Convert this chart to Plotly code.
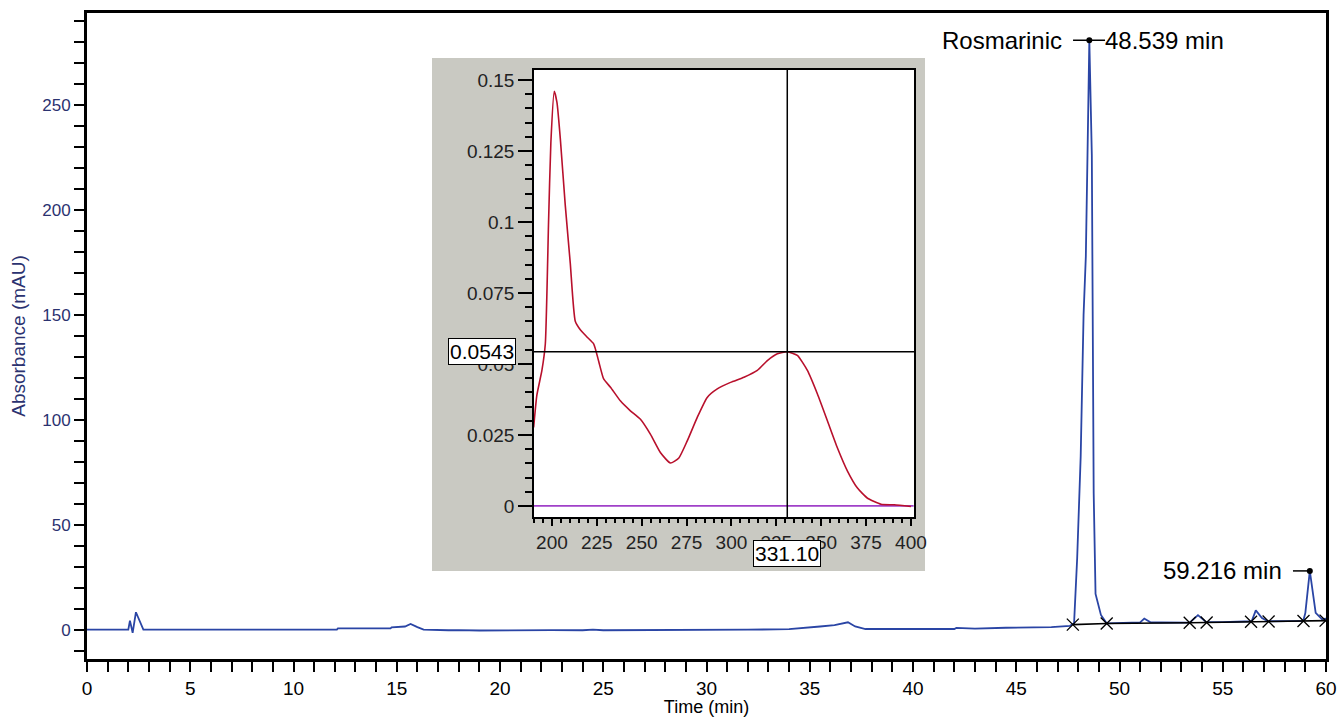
import plotly.graph_objects as go

# ---------------- main chromatogram data ----------------
time_min = [0, 2.0, 2.08, 2.21, 2.37, 2.73, 12.1, 12.15, 14.7, 14.75, 15.4, 15.67, 16.0, 16.3,
            17.5, 18.0, 19.0, 20.0, 21.5, 22.5, 24.0, 24.5, 25.0, 28.0, 29.5, 30.0, 31.0, 32.0,
            34.0, 35.0, 35.5, 36.2, 36.85, 37.2, 37.7, 40.0, 42.0, 42.1, 43.0, 44.5, 46.7, 47.6,
            47.8, 47.95, 48.12, 48.26, 48.37, 48.45, 48.539, 48.66, 48.75, 48.84, 49.1, 49.38,
            50.5, 51.0, 51.2, 51.5, 52.0, 53.0, 53.4, 53.8, 54.2, 55.0, 56.2, 56.4, 56.6, 56.9,
            57.2, 58.0, 58.9, 59.0, 59.216, 59.5, 59.8, 60.0]
absorbance_mau = [0, 0, 4.3, -1.5, 8.3, 0, 0, 0.6, 0.6, 1.1, 1.5, 2.7, 1.2, 0,
                  -0.3, -0.2, -0.4, -0.3, -0.4, -0.2, -0.3, 0, -0.3, -0.3, -0.2, 0, -0.3, 0,
                  0.2, 0.9, 1.5, 2.1, 3.5, 1.5, 0.3, 0.3, 0.3, 0.8, 0.5, 0.9, 1.2, 1.8,
                  3.0, 34, 82.5, 150, 178, 226, 281, 226, 65, 17, 7, 3,
                  3.2, 3.5, 5.3, 3.5, 3.4, 3.3, 3.3, 6.9, 3.6, 3.6, 3.7, 4.0, 9.2, 5.5,
                  4.0, 4.0, 4.2, 8, 28, 8, 5.0, 5.2]

# integration baseline markers
baseline_time = [47.74, 49.38, 53.4, 54.22, 56.37, 57.22, 58.91, 59.98]
baseline_val = [2.4, 2.9, 3.3, 3.4, 3.8, 3.9, 4.1, 4.3]

# peak labels
peak_times = [48.539, 59.216]
peak_heights = [281, 28]

# ---------------- inset UV spectrum data ----------------
wavelength_nm = [189.8, 191.6, 194.4, 196.3, 198.1, 199.4, 201.3, 202.8, 204.7, 207.4, 210.2,
                 213.0, 215.8, 219.5, 223.3, 226.0, 228.8, 232.6, 238.1, 243.7, 249.3, 254.9,
                 260.5, 266.0, 270.7, 275.3, 280.9, 286.5, 292.1, 299.5, 307.0, 314.4, 320.0,
                 325.6, 331.1, 336.7, 342.3, 347.9, 353.5, 359.0, 364.7, 370.2, 375.8, 383.3,
                 390.7, 400.0]
spectrum_au = [0.0276, 0.039, 0.0477, 0.057, 0.0997, 0.128, 0.146, 0.142, 0.129, 0.106, 0.0855,
               0.065, 0.062, 0.0595, 0.057, 0.051, 0.0447, 0.0418, 0.037, 0.0335, 0.0305, 0.0252,
               0.0187, 0.0151, 0.0169, 0.0228, 0.0311, 0.0382, 0.0412, 0.0435, 0.0453, 0.0477,
               0.0512, 0.0536, 0.0543, 0.053, 0.0477, 0.0394, 0.0299, 0.0205, 0.0122, 0.0063,
               0.0027, 0.0006, 0.0004, -0.0002]
zero_line_nm = [190, 401.5]
zero_line_au = [0, 0]
cursor_nm = 331.10
cursor_au = 0.0543

FONT = "Liberation Sans, Arial, sans-serif"
NARROW = "Liberation Sans Narrow, Arial Narrow, Liberation Sans, sans-serif"
NAVY = "#2b3270"

fig = go.Figure()

fig.add_trace(go.Scatter(x=time_min, y=absorbance_mau, mode="lines",
                         line=dict(color="#2a45a5", width=1.8), xaxis="x", yaxis="y",
                         showlegend=False))
fig.add_trace(go.Scatter(x=baseline_time, y=baseline_val, mode="lines+markers",
                         line=dict(color="black", width=1.6),
                         marker=dict(symbol="x-thin-open", size=12,
                                     line=dict(color="#4f5f55", width=1.3)),
                         xaxis="x", yaxis="y", showlegend=False))
fig.add_trace(go.Scatter(x=peak_times, y=peak_heights, mode="markers",
                         marker=dict(color="black", size=6), xaxis="x", yaxis="y",
                         showlegend=False))

# inset traces
fig.add_trace(go.Scatter(x=zero_line_nm, y=zero_line_au, mode="lines",
                         line=dict(color="#a040c8", width=1.6), xaxis="x2", yaxis="y2",
                         showlegend=False))
fig.add_trace(go.Scatter(x=wavelength_nm, y=spectrum_au, mode="lines",
                         line=dict(color="#b8102c", width=1.6, shape="spline", smoothing=0.5),
                         xaxis="x2", yaxis="y2", showlegend=False))

W, H = 1337, 717
L, R, T, B = 87, 11, 13, 58
pw, ph = W - L - R, H - T - B


def px(x):
    return (x - L) / pw


def py(y):
    return (H - B - y) / ph


shapes = [
    # gray inset panel
    dict(type="rect", xref="paper", yref="paper", x0=px(432), x1=px(925), y0=py(571), y1=py(58),
         fillcolor="#c9c9c2", line=dict(width=0), layer="below"),
    dict(type="rect", xref="paper", yref="paper", x0=px(534), x1=px(914), y0=py(517), y1=py(70),
         fillcolor="white", line=dict(width=0), layer="below"),
    # crosshair
    dict(type="line", xref="x2", yref="y2 domain", x0=cursor_nm, x1=cursor_nm, y0=0, y1=1,
         line=dict(color="black", width=1.5)),
    dict(type="line", xref="x2 domain", yref="y2", x0=0, x1=1, y0=cursor_au, y1=cursor_au,
         line=dict(color="black", width=1.5)),
    # peak label leader lines
    dict(type="line", xref="x", yref="y", x0=47.75, x1=49.3, y0=peak_heights[0], y1=peak_heights[0],
         line=dict(color="black", width=1.5)),
    dict(type="line", xref="x", yref="y", x0=58.4, x1=peak_times[1], y0=peak_heights[1], y1=peak_heights[1],
         line=dict(color="black", width=1.5)),
]

annotations = [
    dict(text="Rosmarinic", xref="paper", yref="y", x=px(1064), y=peak_heights[0],
         xanchor="right", yanchor="middle", showarrow=False,
         font=dict(family=FONT, size=24, color="black")),
    dict(text="48.539 min", xref="paper", yref="y", x=px(1103), y=peak_heights[0],
         xanchor="left", yanchor="middle", showarrow=False,
         font=dict(family=FONT, size=24, color="black")),
    dict(text="59.216 min", xref="paper", yref="y", x=px(1284), y=peak_heights[1],
         xanchor="right", yanchor="middle", showarrow=False,
         font=dict(family=FONT, size=24, color="black")),
    dict(text="0.0543", xref="paper", yref="y2", x=px(516), y=cursor_au,
         xanchor="right", yanchor="middle", showarrow=False, bgcolor="white",
         bordercolor="black", borderwidth=1, borderpad=1,
         font=dict(family=FONT, size=21, color="black")),
    dict(text="331.10", xref="x2", yref="paper", x=cursor_nm, y=py(553),
         xanchor="center", yanchor="middle", showarrow=False, bgcolor="white",
         bordercolor="black", borderwidth=1, borderpad=1,
         font=dict(family=FONT, size=21, color="black")),
]

fig.update_layout(
    width=W, height=H,
    margin=dict(l=L, r=R, t=T, b=B, autoexpand=False),
    paper_bgcolor="white", plot_bgcolor="rgba(0,0,0,0)",
    showlegend=False,
    shapes=shapes, annotations=annotations,
    xaxis=dict(domain=[0, 1], range=[0, 60], showgrid=False, zeroline=False,
               showline=True, linecolor="black", linewidth=3, mirror=True,
               ticks="outside", ticklen=10, tickwidth=2, tickcolor="black",
               tick0=0, dtick=5,
               minor=dict(dtick=1, ticks="outside", ticklen=10, tickwidth=2, tickcolor="black"),
               tickfont=dict(family=NARROW, size=19, color="black"),
               title=dict(text="Time (min)", standoff=0,
                          font=dict(family=FONT, size=18, color="black"))),
    yaxis=dict(domain=[0, 1], range=[-14, 294], showgrid=False, zeroline=False,
               showline=True, linecolor="black", linewidth=3, mirror=True,
               ticks="outside", ticklen=10, tickwidth=2, tickcolor="black",
               tick0=0, dtick=50,
               minor=dict(dtick=10, ticks="outside", ticklen=10, tickwidth=2, tickcolor="black"),
               tickfont=dict(family=FONT, size=17, color=NAVY),
               title=dict(text="Absorbance (mAU)", standoff=12,
                          font=dict(family=FONT, size=19, color=NAVY))),
    xaxis2=dict(domain=[px(534), px(914)], anchor="y2", range=[190, 401.7],
                showgrid=False, zeroline=False, showline=True, linecolor="black",
                linewidth=1.5, mirror=True, ticks="outside", ticklen=7, tickwidth=1.5,
                tickcolor="black", tick0=200, dtick=25,
                minor=dict(dtick=5, ticks="outside", ticklen=4, tickwidth=1.5, tickcolor="black"),
                tickfont=dict(family=FONT, size=19, color="#222222")),
    yaxis2=dict(domain=[py(517), py(70)], anchor="x2", range=[-0.0039, 0.1535],
                showgrid=False, zeroline=False, showline=True, linecolor="black",
                linewidth=1.5, mirror=True, ticks="outside", ticklen=14, tickwidth=1.5,
                tickcolor="black", tickvals=[0, 0.025, 0.05, 0.075, 0.1, 0.125, 0.15],
                ticktext=["0", "0.025", "0.05", "0.075", "0.1", "0.125", "0.15"],
                minor=dict(dtick=0.005, tick0=0, ticks="outside", ticklen=7, tickwidth=1.5,
                           tickcolor="black"),
                tickfont=dict(family=FONT, size=19, color="#222222")),
)

# remove the default 8px page margin so the figure fills the window exactly
fig.write_html("out.html",
               config={"displayModeBar": False},
               post_script="document.body.style.margin='0';"
                           "document.documentElement.style.overflow='hidden';")
